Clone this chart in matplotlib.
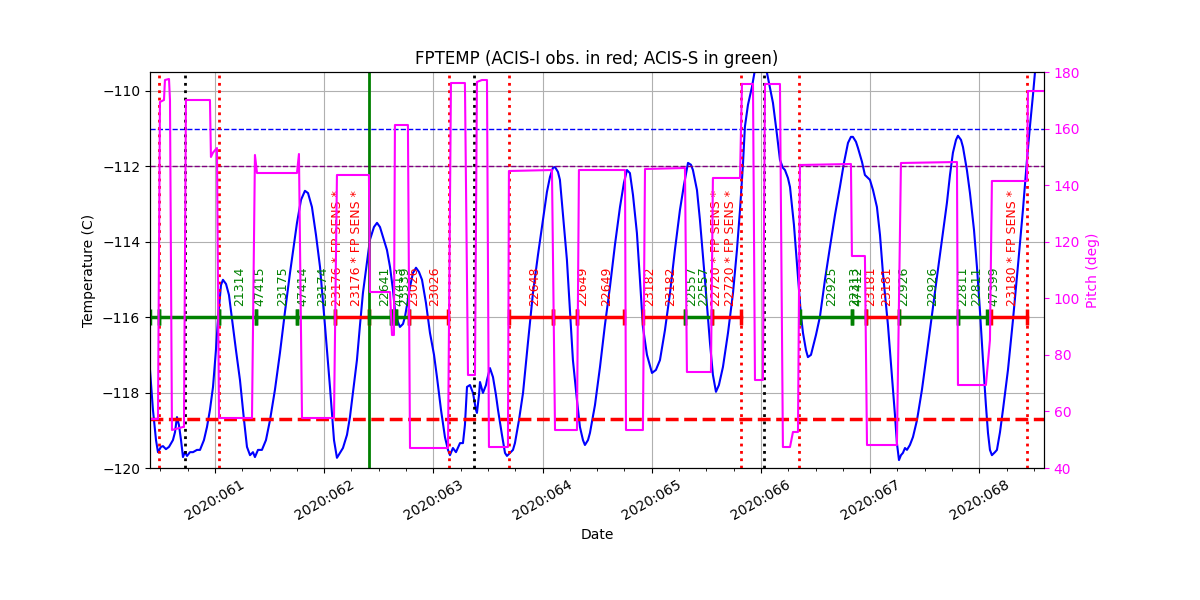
import matplotlib
matplotlib.use('Agg')
from matplotlib import pyplot as plt
from matplotlib.ticker import MultipleLocator

# FPTEMP samples (day of year 2020, deg C)
temp_days = [60.405, 60.432, 60.460, 60.478, 60.505, 60.524, 60.551, 60.579, 60.615, 60.634,
             60.652, 60.670, 60.689, 60.707, 60.725, 60.744, 60.771, 60.799, 60.835, 60.863,
             60.899, 60.927, 60.954, 60.982, 61.009, 61.027, 61.055, 61.073, 61.101, 61.128,
             61.165, 61.192, 61.229, 61.266, 61.293, 61.321, 61.348, 61.366, 61.394, 61.430,
             61.467, 61.504, 61.549, 61.595, 61.641, 61.687, 61.723, 61.751, 61.788, 61.824,
             61.852, 61.888, 61.925, 61.962, 62.007, 62.053, 62.090, 62.117, 62.145, 62.172,
             62.209, 62.236, 62.264, 62.300, 62.328, 62.355, 62.392, 62.419, 62.456, 62.484,
             62.511, 62.538, 62.575, 62.603, 62.630, 62.648, 62.676, 62.694, 62.722, 62.740,
             62.767, 62.786, 62.813, 62.841, 62.868, 62.896, 62.932, 62.969, 63.006, 63.033,
             63.070, 63.106, 63.134, 63.152, 63.179, 63.207, 63.244, 63.271, 63.289, 63.308,
             63.335, 63.363, 63.390, 63.399, 63.418, 63.427, 63.454, 63.482, 63.491, 63.518,
             63.546, 63.573, 63.592, 63.628, 63.656, 63.674, 63.701, 63.729, 63.747, 63.784,
             63.821, 63.866, 63.912, 63.958, 64.004, 64.040, 64.068, 64.095, 64.114, 64.141,
             64.159, 64.187, 64.223, 64.251, 64.278, 64.315, 64.342, 64.370, 64.388, 64.416,
             64.434, 64.480, 64.526, 64.571, 64.617, 64.663, 64.709, 64.745, 64.773, 64.800,
             64.828, 64.864, 64.892, 64.919, 64.956, 65.002, 65.038, 65.075, 65.121, 65.167,
             65.212, 65.258, 65.295, 65.332, 65.359, 65.377, 65.414, 65.441, 65.487, 65.533,
             65.560, 65.588, 65.615, 65.652, 65.698, 65.744, 65.780, 65.808, 65.835, 65.853,
             65.881, 65.918, 65.945, 65.973, 66.000, 66.027, 66.055, 66.082, 66.110, 66.147,
             66.174, 66.201, 66.220, 66.247, 66.266, 66.302, 66.339, 66.366, 66.385, 66.412,
             66.430, 66.458, 66.476, 66.504, 66.540, 66.586, 66.632, 66.678, 66.723, 66.760,
             66.797, 66.824, 66.842, 66.870, 66.888, 66.925, 66.952, 66.980, 66.998, 67.026,
             67.062, 67.090, 67.117, 67.163, 67.200, 67.227, 67.245, 67.264, 67.282, 67.300,
             67.319, 67.337, 67.364, 67.392, 67.429, 67.474, 67.520, 67.566, 67.612, 67.658,
             67.703, 67.731, 67.758, 67.786, 67.804, 67.832, 67.850, 67.886, 67.914, 67.951,
             67.978, 68.005, 68.033, 68.060, 68.079, 68.097, 68.115, 68.143, 68.161, 68.189,
             68.216, 68.262, 68.308, 68.354, 68.399, 68.436, 68.463, 68.491, 68.509, 68.537]
temp_vals = [-117.40, -118.46, -119.26, -119.58, -119.44, -119.42, -119.50, -119.44, -119.26, -119.05,
             -118.65, -118.86, -119.26, -119.71, -119.58, -119.68, -119.58, -119.58, -119.52, -119.52,
             -119.26, -118.91, -118.46, -117.85, -116.87, -116.07, -115.15, -115.01, -115.12, -115.41,
             -116.26, -116.87, -117.67, -118.73, -119.44, -119.66, -119.58, -119.71, -119.52, -119.52,
             -119.26, -118.73, -117.93, -116.95, -115.86, -114.83, -114.08, -113.50, -112.89, -112.65,
             -112.71, -113.08, -113.82, -114.67, -116.21, -117.85, -119.26, -119.73, -119.60, -119.47,
             -119.12, -118.65, -117.98, -117.14, -116.21, -115.36, -114.54, -113.95, -113.61, -113.50,
             -113.61, -113.87, -114.22, -114.67, -115.28, -115.81, -116.13, -116.26, -116.18, -115.99,
             -115.54, -115.20, -114.83, -114.69, -114.80, -115.01, -115.62, -116.42, -117.00, -117.59,
             -118.46, -119.18, -119.52, -119.66, -119.47, -119.58, -119.34, -119.34, -118.86, -117.85,
             -117.80, -118.01, -118.46, -118.54, -118.06, -117.72, -118.01, -117.80, -117.67, -117.35,
             -117.59, -118.06, -118.46, -119.12, -119.60, -119.68, -119.60, -119.52, -119.34, -118.73,
             -118.01, -116.68, -115.36, -114.35, -113.42, -112.68, -112.28, -112.04, -112.02, -112.15,
             -112.36, -113.29, -114.48, -115.81, -117.14, -118.20, -118.91, -119.26, -119.39, -119.26,
             -119.07, -118.33, -117.32, -116.21, -115.20, -114.08, -113.08, -112.44, -112.10, -112.18,
             -112.76, -113.77, -115.01, -116.26, -117.00, -117.48, -117.40, -117.14, -116.34, -115.36,
             -114.22, -113.16, -112.49, -111.91, -111.96, -112.10, -112.63, -113.42, -115.01, -116.68,
             -117.53, -117.98, -117.80, -117.32, -116.42, -115.36, -114.22, -113.16, -111.96, -110.95,
             -110.37, -109.89, -109.44, -109.23, -109.18, -109.31, -109.52, -109.92, -110.32, -111.17,
             -111.83, -112.04, -112.10, -112.31, -112.55, -113.55, -114.93, -115.94, -116.42, -116.87,
             -117.06, -117.00, -116.79, -116.47, -115.99, -115.01, -114.14, -113.29, -112.55, -111.91,
             -111.38, -111.22, -111.22, -111.35, -111.51, -111.88, -112.23, -112.31, -112.36, -112.63,
             -113.08, -113.82, -114.83, -116.21, -117.59, -118.59, -119.34, -119.79, -119.66, -119.60,
             -119.47, -119.52, -119.39, -119.18, -118.73, -117.93, -116.95, -115.94, -114.93, -113.95,
             -112.97, -112.23, -111.64, -111.30, -111.19, -111.30, -111.49, -112.10, -112.71, -113.69,
             -114.67, -115.81, -117.14, -118.33, -119.07, -119.52, -119.66, -119.58, -119.52, -119.05,
             -118.46, -117.40, -116.07, -114.62, -113.16, -111.83, -110.95, -110.11, -109.52, -109.05]

# pitch samples (deg)
pitch_days = [60.405, 60.478, 60.496, 60.533, 60.542, 60.579, 60.588, 60.606, 60.707, 60.716,
              60.734, 60.954, 60.963, 60.982, 61.018, 61.037, 61.339, 61.366, 61.385, 61.751,
              61.769, 61.797, 62.090, 62.117, 62.410, 62.419, 62.603, 62.621, 62.639, 62.648,
              62.767, 62.786, 63.134, 63.161, 63.289, 63.317, 63.381, 63.399, 63.445, 63.491,
              63.509, 63.683, 63.692, 64.086, 64.114, 64.315, 64.333, 64.755, 64.764, 64.919,
              64.938, 65.304, 65.322, 65.542, 65.560, 65.808, 65.826, 65.927, 65.945, 66.018,
              66.037, 66.174, 66.201, 66.266, 66.293, 66.339, 66.357, 66.824, 66.833, 66.952,
              66.971, 67.245, 67.282, 67.795, 67.804, 68.060, 68.097, 68.115, 68.436, 68.445,
              68.592]
pitch_vals = [57.32, 57.32, 169.40, 170.10, 177.17, 177.53, 170.10, 53.43, 54.50, 54.50,
              170.10, 170.10, 149.95, 151.50, 153.13, 57.68, 57.68, 150.66, 144.29, 144.29,
              151.01, 57.68, 57.68, 143.59, 143.59, 102.22, 102.22, 87.02, 87.02, 161.26,
              161.26, 47.07, 47.07, 176.11, 176.11, 72.88, 72.88, 176.47, 177.17, 177.17,
              47.42, 47.42, 145.00, 145.35, 53.43, 53.43, 145.35, 145.35, 53.43, 53.43,
              145.71, 146.06, 73.94, 73.94, 142.53, 142.53, 175.76, 175.76, 71.11, 71.11,
              175.76, 175.76, 47.42, 47.42, 52.73, 52.73, 147.12, 147.48, 114.95, 114.95,
              48.13, 48.13, 147.83, 148.18, 69.34, 69.34, 85.25, 141.47, 141.47, 173.28,
              173.28]

red_lines = [60.487, 61.037, 63.143, 63.692, 65.817, 66.348, 68.436]
black_lines = [60.725, 63.372, 66.027]
green_lines = [62.410]

# observation intervals
obs_start = [60.405, 60.487, 61.037, 61.375, 61.751, 62.099, 62.410, 62.612, 62.658, 62.776,
             63.697, 64.095, 64.315, 64.919, 65.304, 65.551, 66.357, 66.833, 66.961, 67.264,
             67.804, 68.106]
obs_stop = [60.487, 61.037, 61.375, 61.751, 62.099, 62.410, 62.612, 62.658, 62.776, 63.134,
            64.095, 64.315, 64.745, 65.304, 65.551, 65.817, 66.833, 66.961, 67.264, 67.804,
            68.069, 68.436]
obs_color = ['green', 'green', 'green', 'green', 'green', 'red', 'green', 'green', 'green', 'red',
             'red', 'red', 'red', 'red', 'green', 'red', 'green', 'green', 'red', 'green',
             'green', 'red']

label_days = [61.229, 61.412, 61.623, 61.806, 61.989, 62.126, 62.300, 62.557, 62.685, 62.740,
              62.822, 63.015, 63.930, 64.370, 64.590, 64.984, 65.176, 65.368, 65.478, 65.597,
              65.725, 66.648, 66.861, 66.888, 67.007, 67.154, 67.310, 67.575, 67.850, 67.978,
              68.134, 68.308]
label_text = ['21314', '47415', '23175', '47414', '23174', '23176 * FP SENS *', '23176 * FP SENS *',
              '22641', '47413', '23539', '23026', '23026', '22648', '22649', '22649', '23182',
              '23182', '22557', '22557', '22720 * FP SENS *', '22720 * FP SENS *', '22925',
              '22313', '47412', '23181', '23181', '22926', '22926', '22811', '22811', '47399',
              '23180 * FP SENS *']
label_color = ['green', 'green', 'green', 'green', 'green', 'red', 'red', 'green', 'green', 'green',
               'red', 'red', 'red', 'red', 'red', 'red', 'red', 'green', 'green', 'red',
               'red', 'green', 'green', 'green', 'red', 'red', 'green', 'green', 'green', 'green',
               'green', 'red']

xtick_days = [61, 62, 63, 64, 65, 66, 67, 68]
xtick_labels = ['2020:061', '2020:062', '2020:063', '2020:064',
                '2020:065', '2020:066', '2020:067', '2020:068']

if __name__ == '__main__':
    fig, ax = plt.subplots(figsize=(12, 6), dpi=100)
    fig.subplots_adjust(left=0.125, right=0.87, top=0.88, bottom=0.22)

    ax.plot(temp_days, temp_vals, color='blue', lw=1.5)
    ax.axhline(-111, color='blue', linestyle='--', lw=1)
    ax.axhline(-112, color='purple', linestyle='--', lw=1)
    ax.axhline(-118.7, color='red', linestyle='--', lw=2.5)
    for d in red_lines:
        ax.axvline(d, color='red', linestyle=':', lw=2)
    for d in black_lines:
        ax.axvline(d, color='black', linestyle=':', lw=2)
    for d in green_lines:
        ax.axvline(d, color='green', linestyle='-', lw=2)

    for s, e, c in zip(obs_start, obs_stop, obs_color):
        ax.plot([s, e], [-116, -116], color=c, lw=2.5, marker='|', ms=11, mew=2.5)
    for d, t, c in zip(label_days, label_text, label_color):
        ax.text(d, -115.7, t, rotation=90, ha='center', va='bottom', color=c, fontsize=9)

    ax.set_xlim(60.405, 68.592)
    ax.set_ylim(-120, -109.5)
    ax.set_xticks(xtick_days, xtick_labels, rotation=30)
    ax.xaxis.set_minor_locator(MultipleLocator(0.25))
    ax.grid(True)
    ax.set_xlabel('Date')
    ax.set_ylabel('Temperature (C)')
    ax.set_title('FPTEMP (ACIS-I obs. in red; ACIS-S in green)')

    ax2 = ax.twinx()
    ax2.plot(pitch_days, pitch_vals, color='magenta', lw=1.5)
    ax2.set_ylim(40, 180)
    ax2.set_ylabel('Pitch (deg)', color='magenta')
    ax2.tick_params(axis='y', colors='magenta')
    ax2.spines['right'].set_color('black')

    plt.savefig('out.png')
